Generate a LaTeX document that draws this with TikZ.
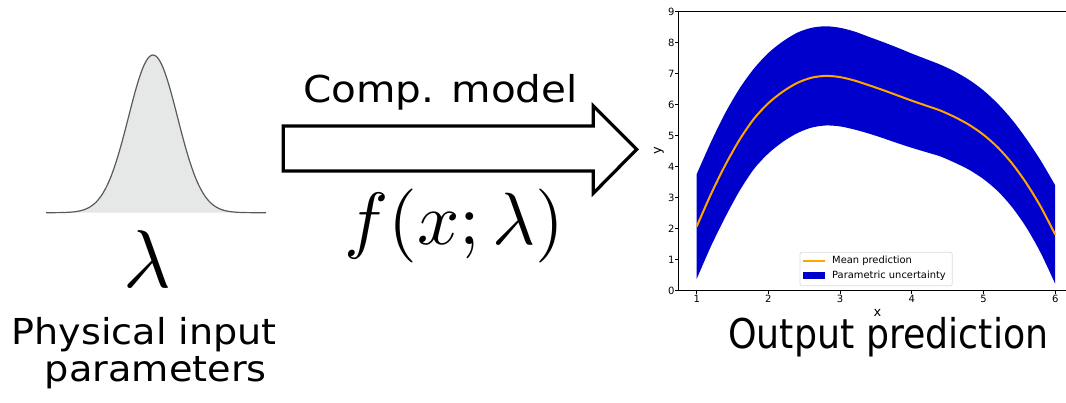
\documentclass[tikz,border=0pt]{standalone}
\usepackage[no-math]{fontspec}
\setmainfont{DejaVu Sans}
\usepackage{graphicx}
\definecolor{bandblue}{HTML}{0000CC}
\definecolor{meanorange}{HTML}{FFA500}
\definecolor{bellfill}{HTML}{E6E7E7}
\definecolor{bellline}{HTML}{5A5A5A}
\definecolor{legendedge}{HTML}{DDDDDD}
\begin{document}
\begin{tikzpicture}[x=1pt,y=-1pt,
  lab/.style={inner sep=0pt, anchor=base, text=black},
  ticklab/.style={inner sep=0pt, font=\fontsize{10}{12}\selectfont},
  axislab/.style={inner sep=0pt, font=\fontsize{13}{15}\selectfont},
  leglab/.style={inner sep=0pt, anchor=west, font=\fontsize{9.9}{11}\selectfont},
  blockarrow/.style={draw=black, line width=3.2pt, line join=miter, fill=white},
  axisline/.style={draw=black, line width=1pt},
  ]
\useasboundingbox (0,0) rectangle (1066,402);

% ---------- bell curve ----------
\filldraw[fill=bellfill, draw=bellline, line width=1.2pt]
  plot[domain=46:266, samples=120, smooth] (\x,{212.7-157.7*exp(-((\x-153)^2)/1200.5)});

\node[lab] (lam) at (147,287) {\scalebox{8.2}{$\lambda$}};
\node[lab] (phys1) at (144.2,344.3) {\resizebox{265pt}{\height}{\fontsize{35.7}{40}\selectfont Physical input}};
\node[lab] (phys2) at (155.8,381.7) {\resizebox{221.7pt}{\height}{\fontsize{35.7}{40}\selectfont parameters}};

% ---------- block arrow ----------
\draw[blockarrow] (283.3,126) -- (593.3,126) -- (593.3,106) -- (636.7,149.3)
  -- (593.3,193.3) -- (593.3,171) -- (283.3,171) -- cycle;
\node[lab] (comp) at (440.5,102.3) {\resizebox{274.4pt}{\height}{\fontsize{37}{42}\selectfont Comp. model}};
\node[lab] (func) at (454.7,244.5) {\scalebox{7.4}{$f(x;\lambda)$}};

% ---------- plot ----------
\begin{scope}[shift={(625,290.7)}, x={(71.7pt,0pt)}, y={(0pt,31pt)}]
  \fill[bandblue]
    plot[smooth] coordinates {(1.0,3.76) (1.2,4.80) (1.4,5.74) (1.6,6.53) (1.8,7.17) (2.0,7.67)
      (2.2,8.04) (2.4,8.32) (2.6,8.48) (2.8,8.53) (3.0,8.48) (3.2,8.36) (3.4,8.19) (3.6,8.02)
      (3.8,7.84) (4.0,7.65) (4.2,7.47) (4.4,7.29) (4.6,7.07) (4.8,6.80) (5.0,6.46) (5.2,6.03)
      (5.4,5.51) (5.6,4.89) (5.8,4.19) (6.0,3.40)}
    -- plot[smooth] coordinates {(6.0,0.22) (5.8,1.21) (5.6,2.03) (5.4,2.69) (5.2,3.21) (5.0,3.60)
      (4.8,3.90) (4.6,4.13) (4.4,4.33) (4.2,4.47) (4.0,4.61) (3.8,4.76) (3.6,4.92) (3.4,5.07)
      (3.2,5.20) (3.0,5.30) (2.8,5.33) (2.6,5.26) (2.4,5.08) (2.2,4.80) (2.0,4.43) (1.8,3.93)
      (1.6,3.23) (1.4,2.38) (1.2,1.44) (1.0,0.38)}
    -- cycle;
  \draw[meanorange, line width=2pt]
    plot[smooth] coordinates {(1.0,2.07) (1.2,3.12) (1.4,4.06) (1.6,4.88) (1.8,5.55) (2.0,6.05)
      (2.2,6.42) (2.4,6.70) (2.6,6.87) (2.8,6.93) (3.0,6.89) (3.2,6.78) (3.4,6.63) (3.6,6.47)
      (3.8,6.30) (4.0,6.13) (4.2,5.97) (4.4,5.81) (4.6,5.60) (4.8,5.35) (5.0,5.03) (5.2,4.62)
      (5.4,4.10) (5.6,3.46) (5.8,2.70) (6.0,1.81)};
  \foreach \v in {0,...,9} {
    \draw[line width=0.8pt] (0.75,\v) -- ++(-3.5pt,0pt);
    \node[ticklab, anchor=east] (yt\v) at ([xshift=-4pt]0.75,\v) {\v};
  }
  \foreach \v in {1,...,6} {
    \draw[line width=0.8pt] (\v,0) -- ++(0pt,-3.5pt);
    \node[ticklab, anchor=north] (xt\v) at ([yshift=-4.5pt]\v,0) {\v};
  }
\end{scope}
\draw[axisline] (1066,11.7) -- (678.7,11.7) -- (678.7,290.7) -- (1066,290.7);

\node[axislab] (xlab) at (877.5,312.5) {x};
\node[axislab, rotate=90] (ylab) at (659,151) {y};

% legend
\draw[legendedge, fill=white, rounded corners=2pt, line width=0.8pt] (800,252.3) rectangle (952.3,285.7);
\draw[meanorange, line width=2pt] (803,260.7) -- (824.7,260.7);
\fill[bandblue] (803,271.7) rectangle (824.7,279.3);
\node[leglab] (leg1) at (832,260.7) {Mean prediction};
\node[leglab] (leg2) at (832,275.5) {Parametric uncertainty};

\node[lab] (outp) at (888.3,348.3) {\resizebox{320pt}{\height}{\fontsize{41}{46}\selectfont Output prediction}};
\end{tikzpicture}
\end{document}
